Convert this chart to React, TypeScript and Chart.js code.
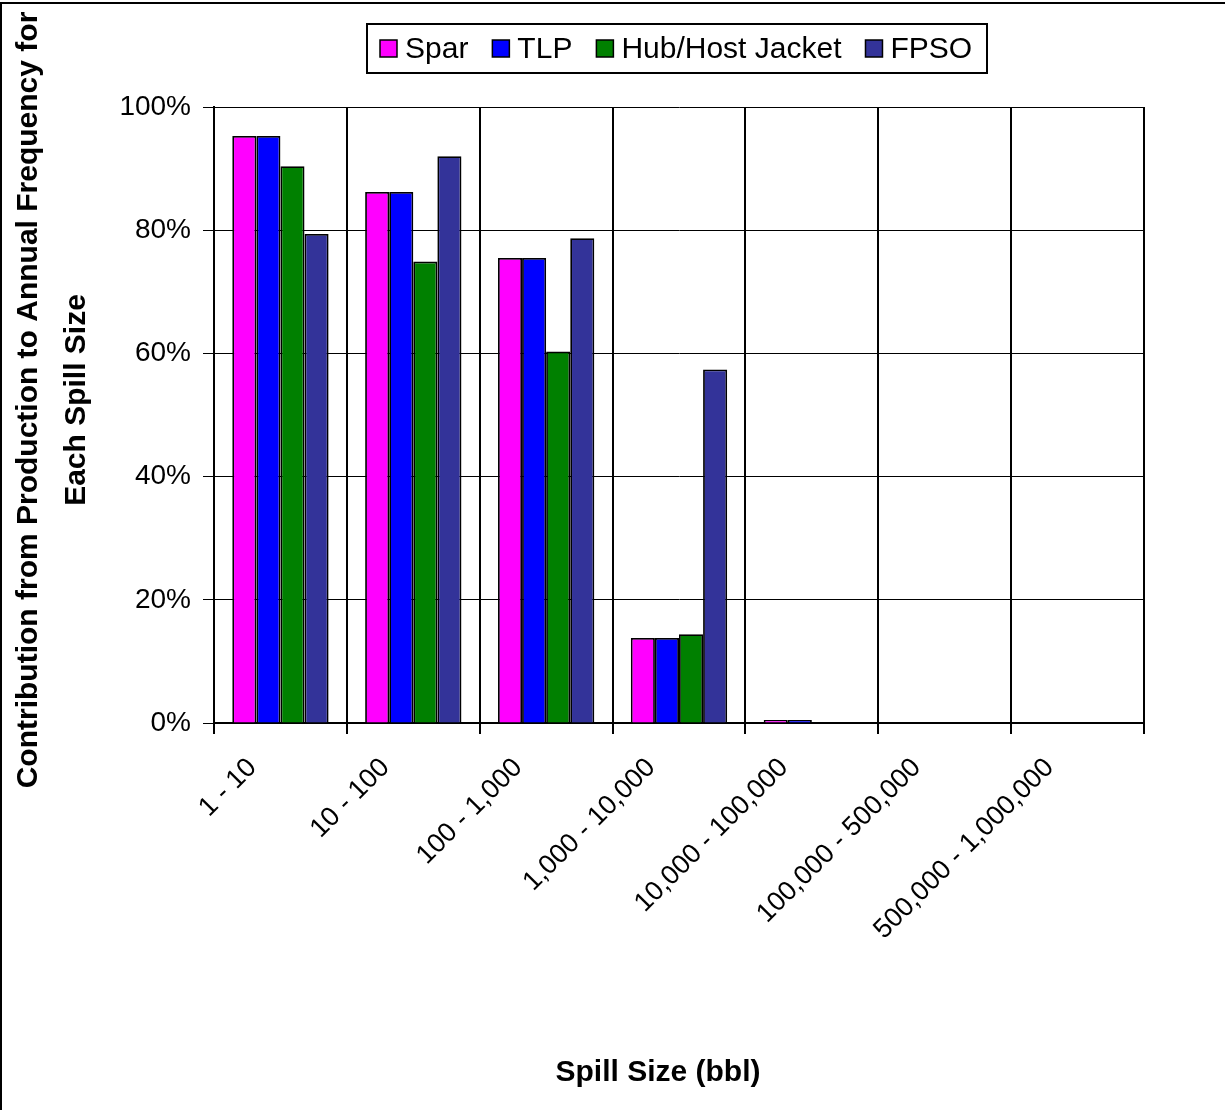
import { useEffect, useRef } from "react";
import { Chart, registerables } from "chart.js";

Chart.register(...registerables);

// Spill size classes (bbl)
const categories = [
  "1 - 10",
  "10 - 100",
  "100 - 1,000",
  "1,000 - 10,000",
  "10,000 - 100,000",
  "100,000 - 500,000",
  "500,000 - 1,000,000",
];

// Contribution from production (%) per facility type
const sparValues = [95.3, 86.2, 75.5, 13.8, 0.5, 0, 0];
const tlpValues = [95.3, 86.2, 75.5, 13.8, 0.5, 0, 0];
const hubHostJacketValues = [90.4, 74.9, 60.3, 14.4, 0, 0, 0];
const fpsoValues = [79.4, 92.0, 78.7, 57.4, 0, 0, 0];

const seriesNames = ["Spar", "TLP", "Hub/Host Jacket", "FPSO"];
const seriesColors = ["#FF00FF", "#0000FF", "#008000", "#333399"];

const yTitleLines = ["Contribution from Production to Annual Frequency for", "Each Spill Size"];
const xTitle = "Spill Size (bbl)";

const FONT = '"Liberation Sans", Arial, Helvetica, sans-serif';

// Frame, axis titles and boxed legend drawn over the chart
const decorations = {
  id: "decorations",
  afterDraw(chart: any) {
    const ctx: CanvasRenderingContext2D = chart.ctx;
    ctx.save();

    // outer frame
    ctx.strokeStyle = "#000";
    ctx.lineWidth = 2;
    ctx.beginPath();
    ctx.moveTo(1, chart.height);
    ctx.lineTo(1, 3);
    ctx.lineTo(chart.width, 3);
    ctx.stroke();

    ctx.fillStyle = "#000";

    // y-axis title (two rotated lines)
    ctx.save();
    ctx.font = `bold 30px ${FONT}`;
    ctx.textAlign = "center";
    ctx.textBaseline = "alphabetic";
    ctx.translate(37, 400);
    ctx.rotate(-Math.PI / 2);
    yTitleLines.forEach((line, i) => ctx.fillText(line, 0, i * 48));
    ctx.restore();

    // x-axis title
    ctx.font = `bold 30px ${FONT}`;
    ctx.textAlign = "center";
    ctx.textBaseline = "alphabetic";
    ctx.fillText(xTitle, 658, 1081);

    // legend box
    const boxL = 367, boxT = 24, boxW = 620, boxH = 49;
    ctx.fillStyle = "#fff";
    ctx.fillRect(boxL, boxT, boxW, boxH);
    ctx.strokeStyle = "#000";
    ctx.lineWidth = 2;
    ctx.strokeRect(boxL, boxT, boxW, boxH);

    ctx.font = `30px ${FONT}`;
    ctx.textAlign = "left";
    ctx.textBaseline = "middle";
    const marker = 17;
    const cy = boxT + boxH / 2;
    let x = 380;
    chart.data.datasets.forEach((ds: any) => {
      ctx.fillStyle = ds.backgroundColor;
      ctx.fillRect(x, cy - marker / 2, marker, marker);
      ctx.lineWidth = 1.5;
      ctx.strokeStyle = "#000";
      ctx.strokeRect(x, cy - marker / 2, marker, marker);
      ctx.fillStyle = "#000";
      const tx = x + marker + 8;
      ctx.fillText(ds.label, tx, cy + 1);
      x = tx + ctx.measureText(ds.label).width + 24;
    });

    ctx.restore();
  },
};

export default function App() {
  const canvasRef = useRef<HTMLCanvasElement | null>(null);

  useEffect(() => {
    const canvas = canvasRef.current;
    if (!canvas) return;

    const valueSets = [sparValues, tlpValues, hubHostJacketValues, fpsoValues];

    const chart = new Chart(canvas, {
      type: "bar",
      data: {
        labels: categories,
        datasets: valueSets.map((values, i) => ({
          label: seriesNames[i],
          data: values,
          backgroundColor: seriesColors[i],
          borderColor: "#000",
          borderWidth: 1.8,
          categoryPercentage: 0.725,
          barPercentage: 1.0,
        })),
      },
      options: {
        responsive: false,
        animation: false,
        devicePixelRatio: 1,
        layout: { padding: { top: 107, right: 81, left: 0, bottom: 0 } },
        plugins: {
          legend: { display: false },
          title: { display: false },
          tooltip: { enabled: false },
        },
        scales: {
          x: {
            offset: true,
            grid: {
              offset: true,
              color: "#000",
              lineWidth: 2,
              tickLength: 11,
              drawTicks: true,
            },
            border: { display: true, color: "#000", width: 2 },
            ticks: {
              color: "#000",
              font: { family: FONT, size: 27 },
              minRotation: 45,
              maxRotation: 45,
              autoSkip: false,
              padding: 18,
              labelOffset: -28,
            },
            afterFit: (scale: any) => {
              scale.height = 1110 - 723;
            },
          },
          y: {
            min: 0,
            max: 100,
            grid: {
              color: "#000",
              lineWidth: 1,
              tickLength: 11,
              drawTicks: true,
            },
            border: { display: true, color: "#000", width: 2 },
            ticks: {
              stepSize: 20,
              color: "#000",
              font: { family: FONT, size: 28 },
              padding: 12,
              callback: (v: any) => `${v}%`,
            },
            afterFit: (scale: any) => {
              scale.width = 214;
            },
          },
        },
      },
      plugins: [decorations],
    });

    return () => chart.destroy();
  }, []);

  return (
    <div style={{ position: "absolute", left: 0, top: 0, width: 1225, height: 1110, background: "#fff" }}>
      <canvas ref={canvasRef} width={1225} height={1110} style={{ display: "block" }} />
    </div>
  );
}
